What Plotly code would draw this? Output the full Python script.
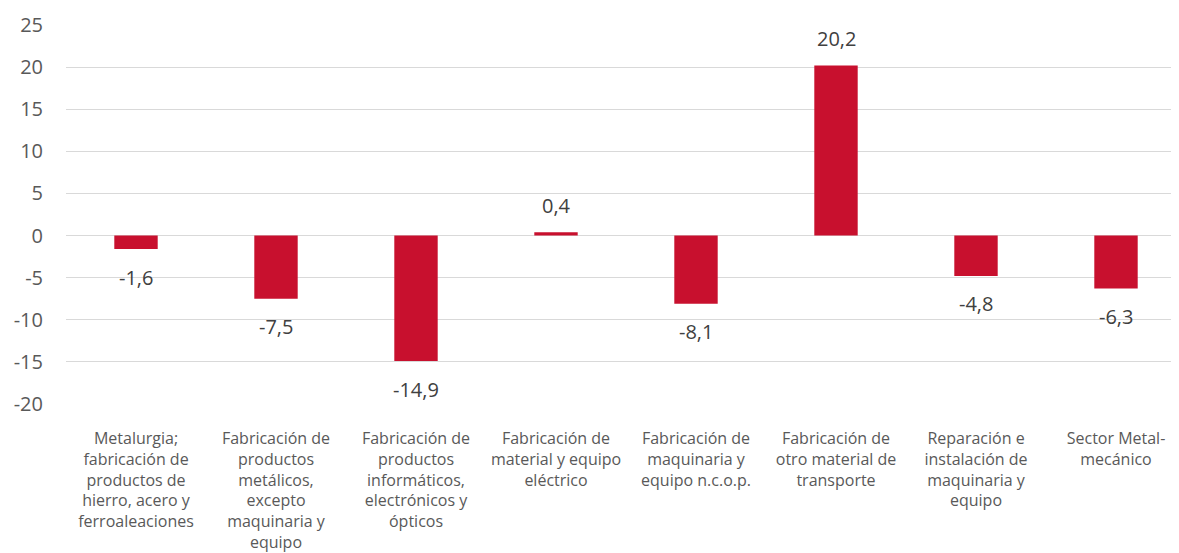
import plotly.graph_objects as go

categories = [
    "Metalurgia;<br>fabricación de<br>productos de<br>hierro, acero y<br>ferroaleaciones",
    "Fabricación de<br>productos<br>metálicos,<br>excepto<br>maquinaria y<br>equipo",
    "Fabricación de<br>productos<br>informáticos,<br>electrónicos y<br>ópticos",
    "Fabricación de<br>material y equipo<br>eléctrico",
    "Fabricación de<br>maquinaria y<br>equipo n.c.o.p.",
    "Fabricación de<br>otro material de<br>transporte",
    "Reparación e<br>instalación de<br>maquinaria y<br>equipo",
    "Sector Metal-<br>mecánico",
]
values = [-1.6, -7.5, -14.9, 0.4, -8.1, 20.2, -4.8, -6.3]
y_ticks = [-20, -15, -10, -5, 0, 5, 10, 15, 20, 25]
y_tick_text = ["-20", "-15", "-10", "-5", "0", "5", "10", "15", "20", "25"]

xs = list(range(len(categories)))

fig = go.Figure(
    go.Bar(
        x=xs,
        y=values,
        width=0.31,
        marker=dict(color="#C8102E", line=dict(width=0)),
        hovertemplate="%{y:.1f}<extra></extra>",
    )
)

for x, v in zip(xs, values):
    label = f"{v:.1f}".replace(".", ",")
    fig.add_annotation(
        x=x,
        y=v,
        xref="x",
        yref="y",
        text=label,
        showarrow=False,
        yanchor="middle",
        yshift=27 if v >= 0 else -28,
        font=dict(size=20, color="#404040", family="Open Sans"),
    )

fig.update_layout(
    width=1171,
    height=545,
    margin=dict(l=58, r=0, t=17, b=147),
    plot_bgcolor="white",
    paper_bgcolor="white",
    separators=",.",
    showlegend=False,
    font=dict(family="Open Sans", color="#595959"),
    xaxis=dict(
        tickmode="array",
        tickvals=xs,
        ticktext=categories,
        range=[-0.5, 7.45],
        showgrid=False,
        showline=False,
        ticks="",
        tickangle=0,
        ticklabelstandoff=23,
        tickfont=dict(size=16, color="#595959"),
    ),
    yaxis=dict(
        range=[-20, 25],
        tickvals=y_ticks,
        ticktext=y_tick_text,
        showgrid=True,
        gridcolor="#D9D9D9",
        gridwidth=1,
        zeroline=True,
        zerolinecolor="#D9D9D9",
        zerolinewidth=1,
        showline=False,
        ticks="",
        ticklabelstandoff=22,
        tickfont=dict(size=20, color="#595959"),
    ),
)

fig.write_html("out.html")
